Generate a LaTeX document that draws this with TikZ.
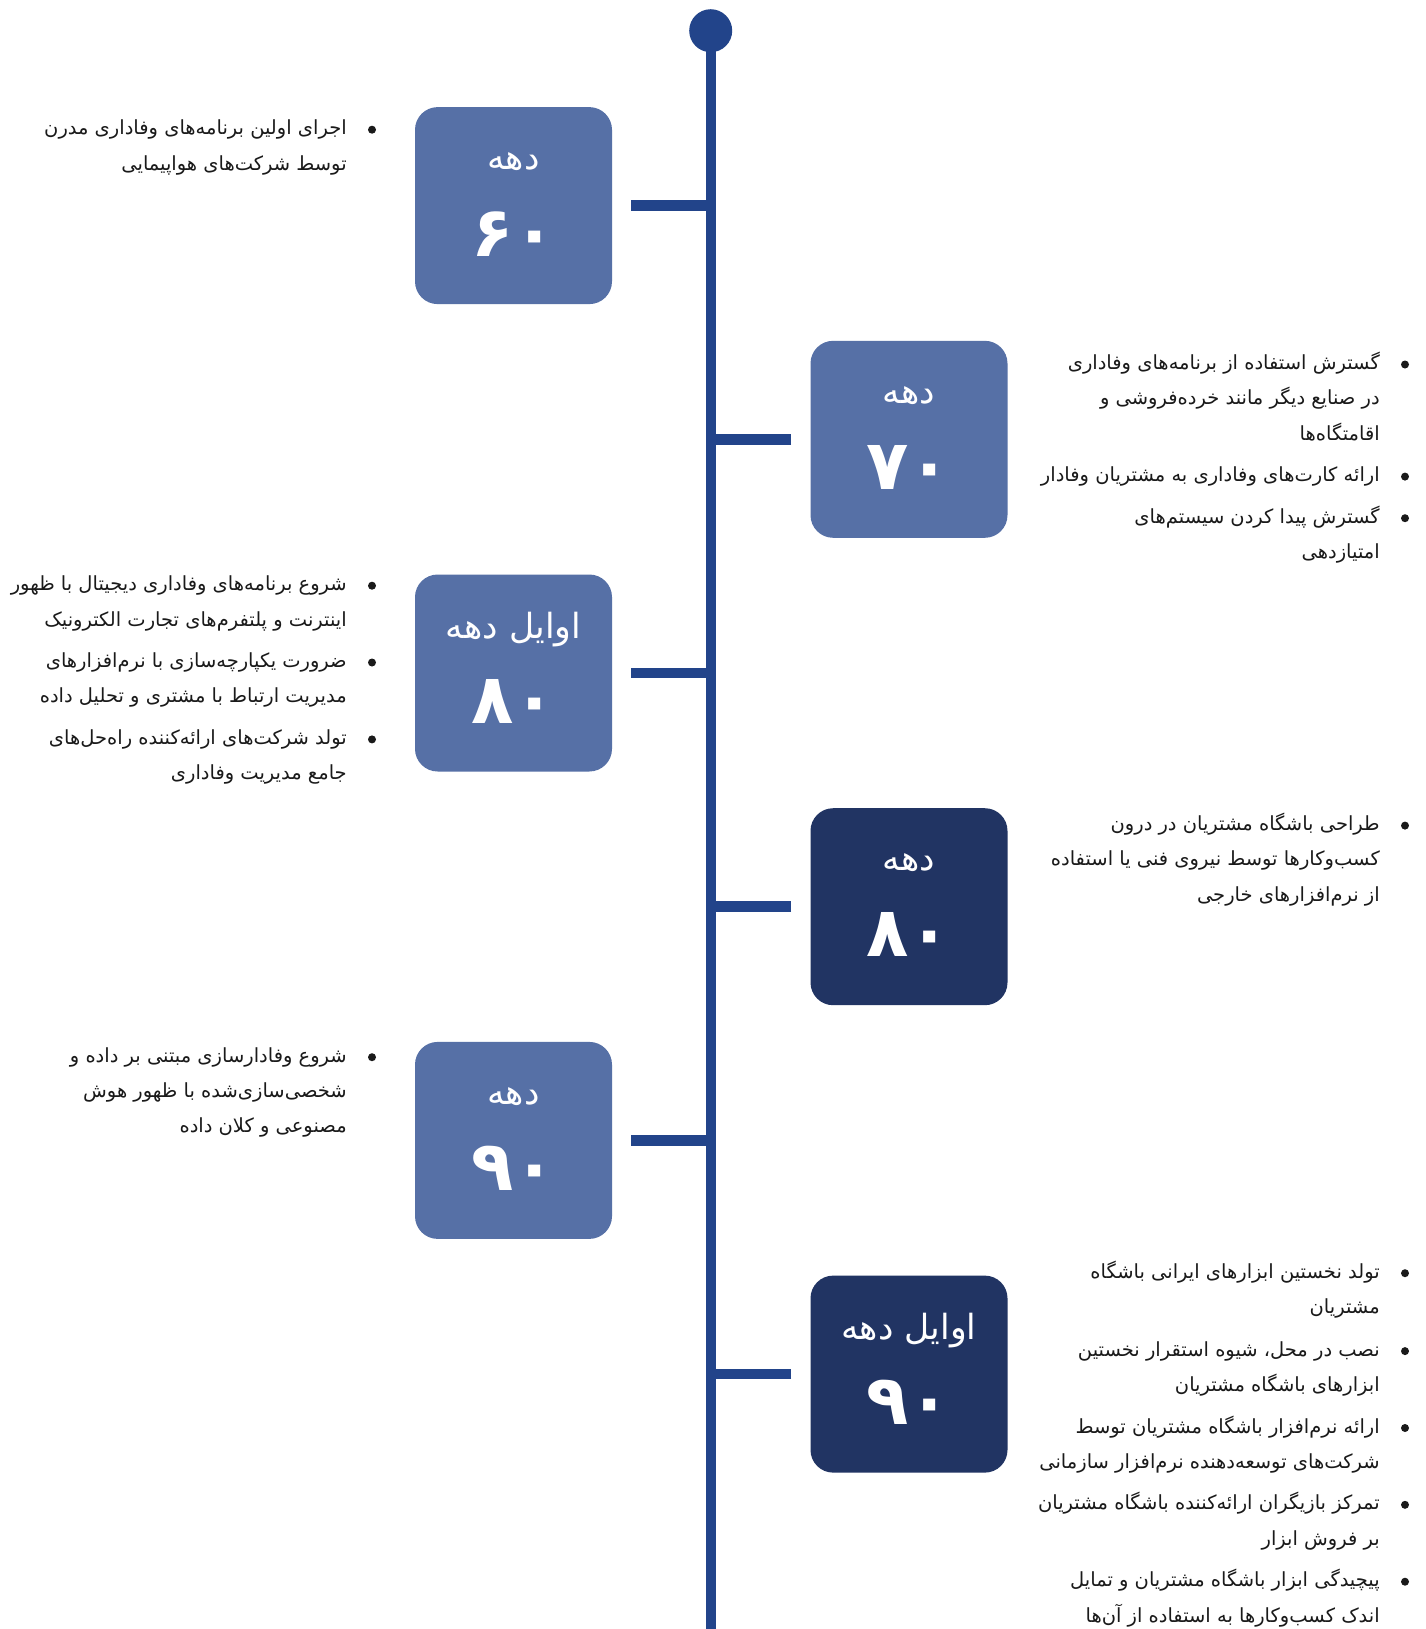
\documentclass[tikz,border=0pt]{standalone}
\usepackage{fontspec}
\usepackage{tikz}
\usetikzlibrary{calc}
\TeXXeTstate=1
\newfontfamily\arabicfont[Script=Arabic]{DejaVu Sans}
\definecolor{tlSpine}{HTML}{22448A}
\definecolor{tlPale}{HTML}{5670A6}
\definecolor{tlDeep}{HTML}{213463}
\definecolor{tlInk}{HTML}{1A1A1A}
\newcommand\rl[1]{\beginR #1\endR}
\tikzset{
  decade box/.style={rounded corners=17pt,minimum width=147.75pt,minimum height=147.75pt,inner sep=0pt},
  pale box/.style={decade box,fill=tlPale},
  deep box/.style={decade box,fill=tlDeep},
  box word/.style={text=white,inner sep=0pt,font=\arabicfont\fontsize{26}{30}\selectfont},
  box number/.style={text=white,inner sep=0pt,font=\arabicfont\bfseries\fontsize{52}{60}\selectfont},
  item text/.style={align=right,text=tlInk,inner sep=0pt,anchor=base east,
    font=\arabicfont\fontsize{14.6}{26.5}\selectfont},
  item bullet/.style={circle,fill=tlInk,inner sep=0pt,minimum size=6pt},
  spine/.style={line width=7.5pt,draw=tlSpine},
  stem/.style={line width=8pt,draw=tlSpine,shorten <=14.25pt}
}
% one bullet point: name, right edge, first baseline, number of lines, lines
\newcommand\decadeitem[5]{%
  \node[item text] (#1) at (#2,{#3+(#4-1)*35.33}) {#5};
  \node[item bullet] (#1b) at ($(#1.base east)+(25,{-5-(#4-1)*35.33})$) {};}

\begin{document}
\begin{tikzpicture}[x=0.75pt,y=-0.75pt]
\useasboundingbox[fill=white] (0,0) rectangle (1426,1629);
% spine
\node[circle,fill=tlSpine,minimum size=32.25pt,inner sep=0pt] (cap) at (710.7,30.7) {};
\coordinate (foot) at (710.7,1629);
\draw[spine] (cap.center) -- (foot);
% decades
\node[pale box] (d60) at (513.5,205.6) {};
\node[box word] (d60w) at ($(d60.north)+(0,55)$) {\rl{دهه}};
\node[box number] (d60n) at ($(d60.north)+(0,127)$) {۶۰};
\node[pale box] (d70) at (909,439.3) {};
\node[box word] (d70w) at ($(d70.north)+(0,55)$) {\rl{دهه}};
\node[box number] (d70n) at ($(d70.north)+(0,127)$) {۷۰};
\node[pale box] (e80) at (513.5,673) {};
\node[box word] (e80w) at ($(e80.north)+(0,55)$) {\rl{اوایل دهه}};
\node[box number] (e80n) at ($(e80.north)+(0,127)$) {۸۰};
\node[deep box] (d80) at (909,906.7) {};
\node[box word] (d80w) at ($(d80.north)+(0,55)$) {\rl{دهه}};
\node[box number] (d80n) at ($(d80.north)+(0,127)$) {۸۰};
\node[pale box] (d90) at (513.5,1140.4) {};
\node[box word] (d90w) at ($(d90.north)+(0,55)$) {\rl{دهه}};
\node[box number] (d90n) at ($(d90.north)+(0,127)$) {۹۰};
\node[deep box] (e90) at (909,1374.1) {};
\node[box word] (e90w) at ($(e90.north)+(0,55)$) {\rl{اوایل دهه}};
\node[box number] (e90n) at ($(e90.north)+(0,127)$) {۹۰};
% stems
\coordinate (s60) at (710.7,205.6); \coordinate (s70) at (710.7,439.3);
\coordinate (s80e) at (710.7,673); \coordinate (s80) at (710.7,906.7);
\coordinate (s90) at (710.7,1140.4); \coordinate (s90e) at (710.7,1374.1);
\draw[stem] (d60.east) -- (s60); \draw[stem] (d70.west) -- (s70);
\draw[stem] (e80.east) -- (s80e); \draw[stem] (d80.west) -- (s80);
\draw[stem] (d90.east) -- (s90); \draw[stem] (e90.west) -- (s90e);
% events
\decadeitem{t60a}{347}{134.7}{2}{\rl{اجرای اولین برنامه‌های وفاداری مدرن}\\\rl{توسط شرکت‌های هواپیمایی}}
\decadeitem{t70a}{1380}{369.5}{3}{\rl{گسترش استفاده از برنامه‌های وفاداری}\\\rl{در صنایع دیگر مانند خرده‌فروشی و}\\\rl{اقامتگاه‌ها}}
\decadeitem{t70b}{1380}{481.6}{1}{\rl{ارائه کارت‌های وفاداری به مشتریان وفادار}}
\decadeitem{t70c}{1380}{523.2}{2}{\rl{گسترش پیدا کردن سیستم‌های}\\\rl{امتیازدهی}}
\decadeitem{t80a}{347}{590.7}{2}{\rl{شروع برنامه‌های وفاداری دیجیتال با ظهور}\\\rl{اینترنت و پلتفرم‌های تجارت الکترونیک}}
\decadeitem{t80b}{347}{667.5}{2}{\rl{ضرورت یکپارچه‌سازی با نرم‌افزارهای}\\\rl{مدیریت ارتباط با مشتری و تحلیل داده}}
\decadeitem{t80c}{347}{744.4}{2}{\rl{تولد شرکت‌های ارائه‌کننده راه‌حل‌های}\\\rl{جامع مدیریت وفاداری}}
\decadeitem{t80d}{1380}{830.6}{3}{\rl{طراحی باشگاه مشتریان در درون}\\\rl{کسب‌وکارها توسط نیروی فنی یا استفاده}\\\rl{از نرم‌افزارهای خارجی}}
\decadeitem{t90a}{347}{1062.2}{3}{\rl{شروع وفادارسازی مبتنی بر داده و}\\\rl{شخصی‌سازی‌شده با ظهور هوش}\\\rl{مصنوعی و کلان داده}}
\decadeitem{t90b}{1380}{1278.2}{2}{\rl{تولد نخستین ابزارهای ایرانی باشگاه}\\\rl{مشتریان}}
\decadeitem{t90c}{1380}{1356.1}{2}{\rl{نصب در محل، شیوه استقرار نخستین}\\\rl{ابزارهای باشگاه مشتریان}}
\decadeitem{t90d}{1380}{1433}{2}{\rl{ارائه نرم‌افزار باشگاه مشتریان توسط}\\\rl{شرکت‌های توسعه‌دهنده نرم‌افزار سازمانی}}
\decadeitem{t90e}{1380}{1509.8}{2}{\rl{تمرکز بازیگران ارائه‌کننده باشگاه مشتریان}\\\rl{بر فروش ابزار}}
\decadeitem{t90f}{1380}{1586.7}{2}{\rl{پیچیدگی ابزار باشگاه مشتریان و تمایل}\\\rl{اندک کسب‌وکارها به استفاده از آن‌ها}}
\end{tikzpicture}
\end{document}
